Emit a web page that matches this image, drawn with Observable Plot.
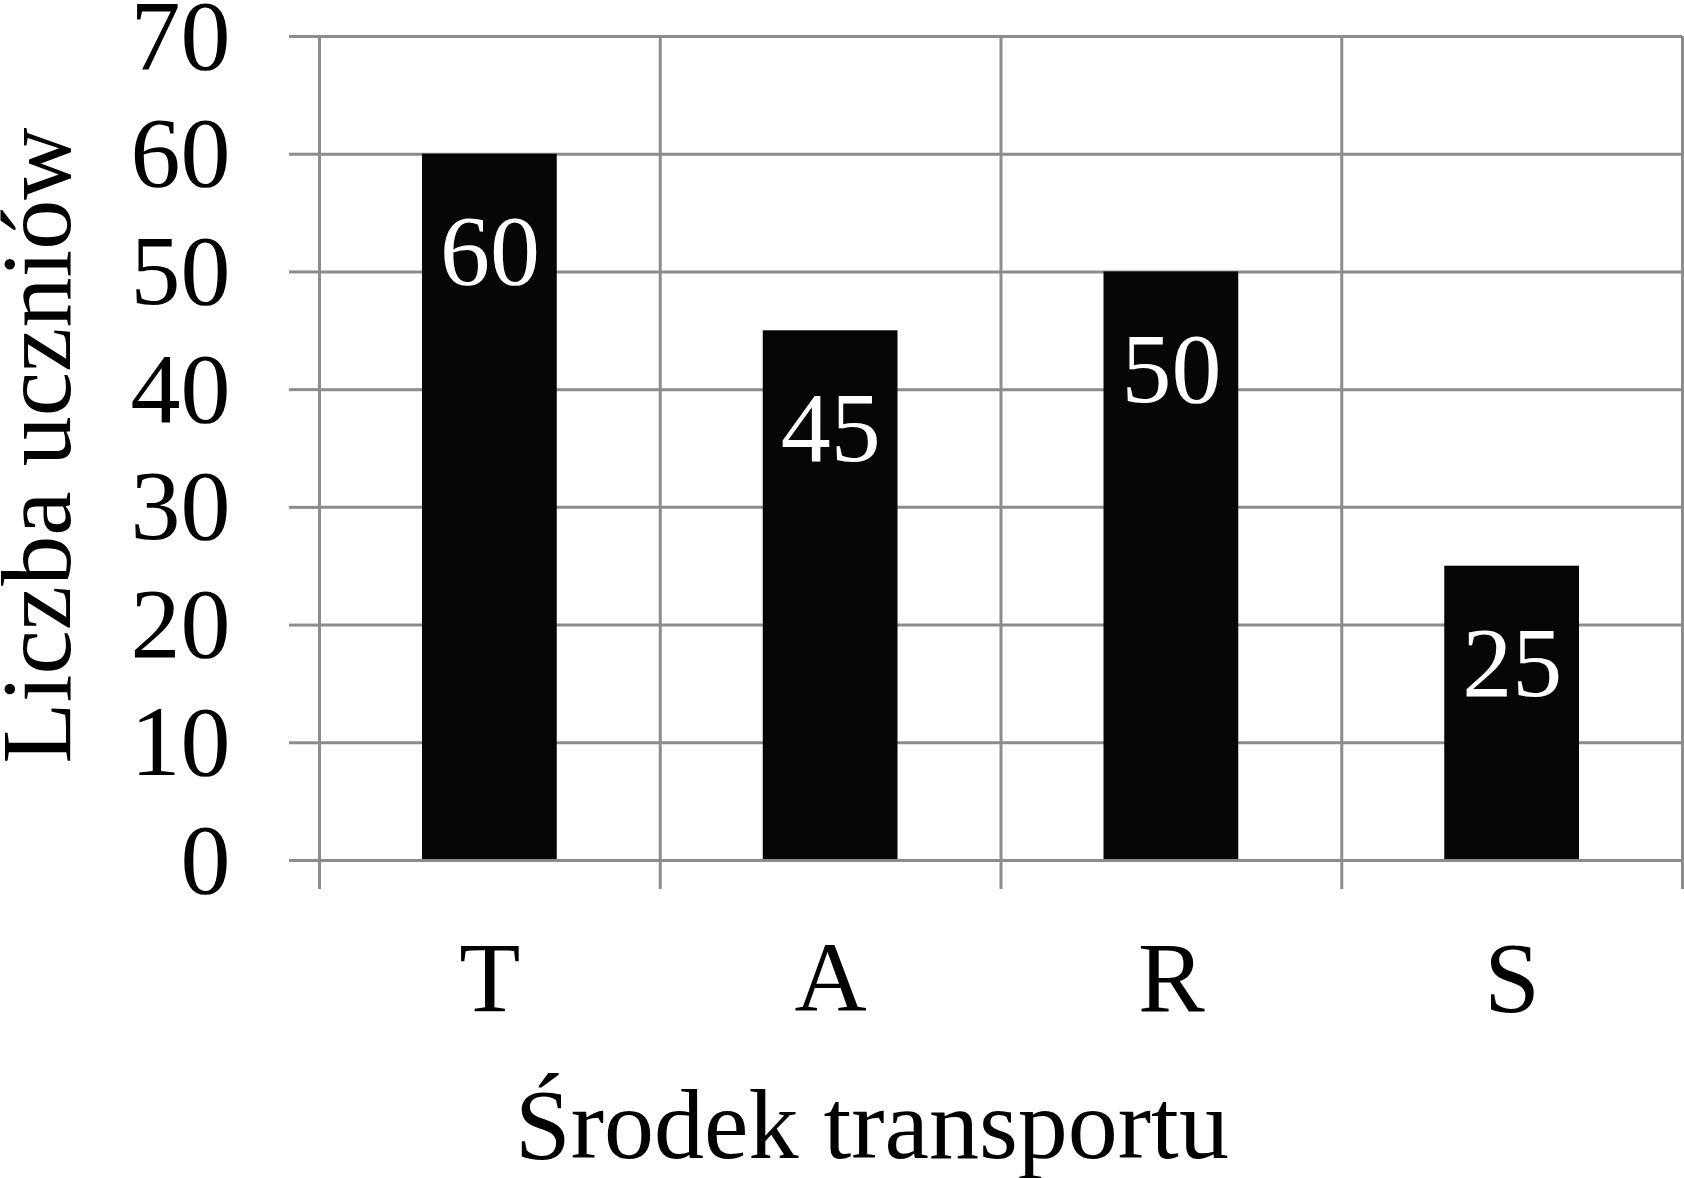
<!DOCTYPE html>
<html>
<head>
<meta charset="utf-8">
<script src="https://cdn.jsdelivr.net/npm/d3@7"></script>
<script src="https://cdn.jsdelivr.net/npm/@observablehq/plot@0.6"></script>
<style>
  html, body { margin: 0; padding: 0; background: #ffffff; }
  #chart { width: 1684px; height: 1178px; }
</style>
</head>
<body>
<div id="chart"></div>
<script>
// ---- data ----
const categories = ["T", "A", "R", "S"];
const values = [60, 45, 50, 25];
const yTicks = [0, 10, 20, 30, 40, 50, 60, 70];
const yMax = 70;
const xLabel = "Środek transportu";
const yLabel = "Liczba uczniów";

const rows = categories.map((c, i) => ({cat: c, i, value: values[i]}));
const boundaries = d3.range(categories.length + 1);
const centers = d3.range(categories.length).map(i => i + 0.5);

const grid = "#8c8c8c";
const font = "'Liberation Serif', 'Times New Roman', serif";

const chart = Plot.plot({
  width: 1684,
  height: 1178,
  marginLeft: 319,
  marginRight: 2,
  marginTop: 36,
  marginBottom: 318,
  style: {fontFamily: font, background: "#ffffff", color: "#000000", overflow: "visible"},
  x: {type: "linear", domain: [0, categories.length], axis: null},
  y: {domain: [0, yMax], axis: null},
  marks: [
    Plot.gridY(yTicks, {stroke: grid, strokeOpacity: 1, strokeWidth: 3}),
    Plot.ruleX(boundaries, {stroke: grid, strokeWidth: 3, insetBottom: -29}),
    Plot.axisY(yTicks, {
      tickSize: 30, tickPadding: 59, stroke: grid, strokeWidth: 3,
      fill: "#000000", fontSize: 100, tickFormat: d => String(d), label: null
    }),
    Plot.rectY(rows, {x1: "i", x2: d => d.i + 1, y: "value", fill: "#070604", insetLeft: 103, insetRight: 103}),
    Plot.ruleY([0], {stroke: grid, strokeWidth: 3}),
    Plot.text(rows, {x: d => d.i + 0.5, y: "value", text: d => String(d.value), fill: "#ffffff", fontSize: 100, dy: 98, lineAnchor: "middle", textAnchor: "middle"}),
    Plot.axisX(centers, {
      tickSize: 0, tickPadding: 79, fontSize: 100, fill: "#000000",
      tickFormat: d => categories[Math.floor(d)], label: null
    }),
    Plot.text([xLabel], {frameAnchor: "bottom", text: d => d, fontSize: 100, fill: "#000000", lineAnchor: "bottom", textAnchor: "middle", dx: -129, dy: 297}),
    Plot.text([yLabel], {frameAnchor: "left", text: d => d, fontSize: 100, fill: "#000000", rotate: -90, lineAnchor: "bottom", textAnchor: "middle", dx: -250, dy: -3})
  ]
});
document.getElementById("chart").appendChild(chart);
</script>
</body>
</html>
